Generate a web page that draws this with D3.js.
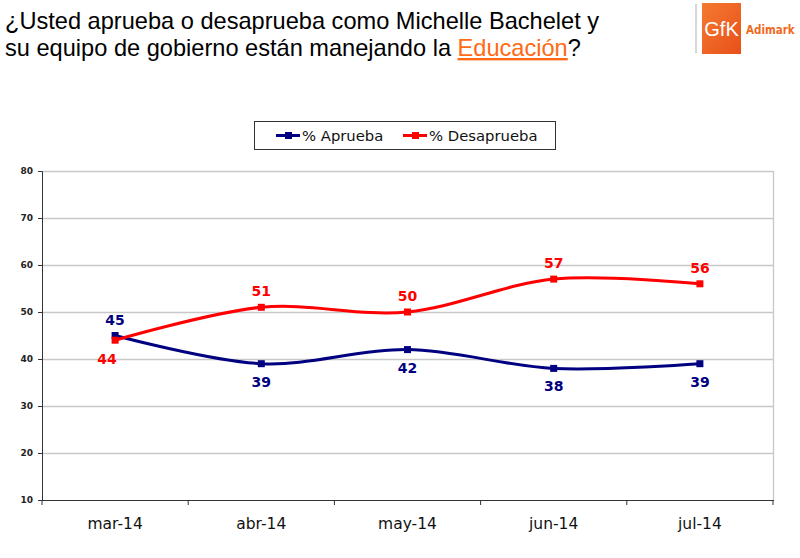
<!DOCTYPE html>
<html><head><meta charset="utf-8">
<script src="https://cdn.jsdelivr.net/npm/d3@7/dist/d3.min.js"></script>
<style>body{margin:0;background:#fff}</style>
</head><body>
<svg id="c" width="800" height="558"></svg>
<script>
const categories = ["mar-14","abr-14","may-14","jun-14","jul-14"];
const aprueba = [45,39,42,38,39];
const desaprueba = [44,51,50,57,56];
const yTicks = [10,20,30,40,50,60,70,80];
const seriesNames = ["% Aprueba","% Desaprueba"];

const svg = d3.select("#c");
const m={l:42,r:773,t:171,b:500};
const x = d3.scaleBand().domain(categories).range([m.l,m.r]);
const y = d3.scaleLinear().domain([10,80]).range([m.b,m.t]);

// title
const t = svg.append("text").attr("font-family","Liberation Sans, Arial, sans-serif").attr("font-size",23.6).attr("fill","#000");
t.append("tspan").attr("x",5).attr("y",29).text("¿Usted aprueba o desaprueba como Michelle Bachelet y");
const l2 = t.append("tspan").attr("x",5).attr("y",56);
l2.append("tspan").text("su equipo de gobierno están manejando la ");
l2.append("tspan").attr("fill","#FF6A13").attr("text-decoration","underline").text("Educación");
l2.append("tspan").text("?");

// logo
svg.append("line").attr("x1",696).attr("x2",696).attr("y1",4).attr("y2",53).attr("stroke","#bbb").attr("stroke-width",1.2);
const grad = svg.append("defs").append("linearGradient").attr("id","lg").attr("x1","0").attr("y1","0").attr("x2","1").attr("y2","1");
grad.append("stop").attr("offset","0").attr("stop-color","#F47A30");
grad.append("stop").attr("offset","1").attr("stop-color","#E8501A");
svg.append("rect").attr("x",702).attr("y",3).attr("width",39).attr("height",51).attr("fill","url(#lg)");
svg.append("text").attr("x",721.5).attr("y",36).attr("text-anchor","middle").attr("font-family","Liberation Sans Narrow, Liberation Sans, sans-serif").attr("font-size",20).attr("fill","#fff").text("GfK");
svg.append("text").attr("x",746).attr("y",34).attr("font-family","DejaVu Sans Condensed, DejaVu Sans, sans-serif").attr("font-weight","bold").attr("font-size",11.5).attr("fill","#F06A1E").text("Adimark");

// legend
const leg = svg.append("g");
leg.append("rect").attr("x",254.5).attr("y",121.5).attr("width",301).attr("height",28).attr("fill","#fff").attr("stroke","#333").attr("stroke-width",1);
const legItems=[{name:seriesNames[0],c:"#000080",x:276},{name:seriesNames[1],c:"#FF0000",x:403}];
legItems.forEach(d=>{
  leg.append("line").attr("x1",d.x).attr("x2",d.x+24).attr("y1",135.5).attr("y2",135.5).attr("stroke",d.c).attr("stroke-width",3);
  leg.append("rect").attr("x",d.x+9).attr("y",132).attr("width",7).attr("height",7).attr("fill",d.c);
  leg.append("text").attr("x",d.x+26).attr("y",141).attr("font-family","DejaVu Sans, Verdana, sans-serif").attr("font-size",14.8).attr("fill","#111").text(d.name);
});

// grid
svg.append("g").selectAll("line").data(yTicks.filter(v=>v>10)).join("line")
  .attr("x1",m.l).attr("x2",m.r).attr("y1",d=>Math.round(y(d))+0.5).attr("y2",d=>Math.round(y(d))+0.5)
  .attr("stroke","#c8c8c8").attr("stroke-width",1.3);
svg.append("line").attr("x1",m.r+0.5).attr("x2",m.r+0.5).attr("y1",m.t).attr("y2",m.b).attr("stroke","#c8c8c8").attr("stroke-width",1.3);

// axes
const ya = svg.append("g").attr("transform",`translate(${m.l},0)`).call(d3.axisLeft(y).tickValues(yTicks).tickSize(4).tickPadding(5));
ya.select(".domain").attr("stroke","#333");
ya.selectAll(".tick line").attr("stroke","#333");
ya.selectAll("text").attr("font-family","DejaVu Sans, Verdana, sans-serif").attr("font-size",9).attr("font-weight","bold").attr("fill","#222");

const xa = svg.append("g").attr("transform",`translate(0,${m.b})`).call(d3.axisBottom(x).tickSize(0).tickPadding(18));
xa.select(".domain").remove();
svg.append("line").attr("x1",m.l).attr("x2",m.r+1).attr("y1",m.b+0.5).attr("y2",m.b+0.5).attr("stroke","#333").attr("stroke-width",1.2);
const bounds = categories.map(c=>x(c)).concat([x(categories[categories.length-1])+x.bandwidth()]);
svg.append("g").selectAll("line").data(bounds).join("line")
  .attr("x1",d=>d).attr("x2",d=>d).attr("y1",m.b).attr("y2",m.b+5).attr("stroke","#333");
xa.selectAll("text").attr("font-family","DejaVu Sans, Verdana, sans-serif").attr("font-size",15.5).attr("fill","#111");

// lines
const cx = c=>x(c)+x.bandwidth()/2;
const line = d3.line().x((d,i)=>cx(categories[i])).y(d=>y(d)).curve(d3.curveCardinal.tension(0));
const series=[{v:aprueba,c:"#000080",pos:["above","below","below","below","below"]},
              {v:desaprueba,c:"#FF0000",pos:["belowleft","above","above","above","above"]}];
series.forEach(s=>{
  svg.append("path").datum(s.v).attr("d",line).attr("fill","none").attr("stroke",s.c).attr("stroke-width",3);
  svg.append("g").selectAll("rect").data(s.v).join("rect")
    .attr("x",(d,i)=>cx(categories[i])-3.5).attr("y",d=>y(d)-3.5).attr("width",7).attr("height",7).attr("fill",s.c);
  svg.append("g").selectAll("text").data(s.v).join("text")
    .attr("x",(d,i)=>cx(categories[i])+(s.pos[i]==="belowleft"?-8:0))
    .attr("y",(d,i)=>y(d)+(s.pos[i]==="above"?-11:(s.pos[i]==="belowleft"?24:23)))
    .attr("text-anchor","middle").attr("font-family","DejaVu Sans, Verdana, sans-serif").attr("font-weight","bold").attr("font-size",14)
    .attr("fill",s.c).text(d=>d);
});
</script>
</body></html>
